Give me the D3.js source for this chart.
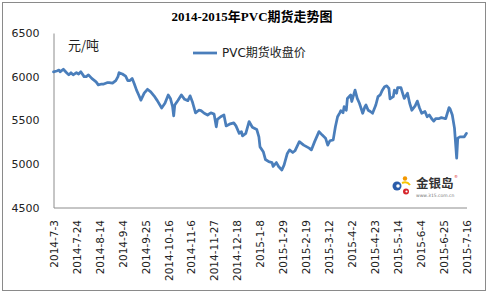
<!DOCTYPE html>
<html>
<head>
<meta charset="utf-8">
<script src="https://cdn.jsdelivr.net/npm/d3@7"></script>
<style>
  html, body { margin: 0; padding: 0; background: #fff; }
  svg { display: block; font-family: "DejaVu Sans", "Noto Sans CJK SC", sans-serif; }
</style>
</head>
<body>
<svg id="chart"></svg>
<script>
//DATA
const dates = [
  "2014-07-03","2014-07-06","2014-07-08","2014-07-09","2014-07-12","2014-07-15","2014-07-17","2014-07-19",
  "2014-07-21","2014-07-24","2014-07-26","2014-07-28","2014-07-31","2014-08-02","2014-08-04","2014-08-07",
  "2014-08-09","2014-08-11","2014-08-13","2014-08-16","2014-08-18","2014-08-21","2014-08-23","2014-08-26",
  "2014-08-29","2014-08-31","2014-09-01","2014-09-04","2014-09-07","2014-09-09","2014-09-11","2014-09-13",
  "2014-09-15","2014-09-17","2014-09-19","2014-09-21","2014-09-24","2014-09-27","2014-09-30","2014-10-03",
  "2014-10-06","2014-10-10","2014-10-13","2014-10-16","2014-10-18","2014-10-20","2014-10-21","2014-10-22",
  "2014-10-25","2014-10-28","2014-10-31","2014-11-03","2014-11-05","2014-11-07","2014-11-10","2014-11-13",
  "2014-11-15","2014-11-18","2014-11-21","2014-11-24","2014-11-27","2014-11-29","2014-11-30","2014-12-03",
  "2014-12-06","2014-12-08","2014-12-11","2014-12-15","2014-12-17","2014-12-20","2014-12-22","2014-12-23",
  "2014-12-26","2014-12-29","2015-01-01","2015-01-05","2015-01-07","2015-01-08","2015-01-11","2015-01-13",
  "2015-01-16","2015-01-19","2015-01-20","2015-01-23","2015-01-25","2015-01-28","2015-01-30","2015-02-02",
  "2015-02-04","2015-02-07","2015-02-09","2015-02-13","2015-02-17","2015-02-22","2015-02-24","2015-02-27",
  "2015-03-03","2015-03-06","2015-03-09","2015-03-11","2015-03-13","2015-03-16","2015-03-18","2015-03-20",
  "2015-03-22","2015-03-23","2015-03-25","2015-03-26","2015-03-28","2015-03-29","2015-04-01","2015-04-02",
  "2015-04-05","2015-04-07","2015-04-09","2015-04-12","2015-04-14","2015-04-15","2015-04-17","2015-04-19",
  "2015-04-21","2015-04-24","2015-04-26","2015-04-28","2015-04-30","2015-05-02","2015-05-04","2015-05-06",
  "2015-05-07","2015-05-10","2015-05-11","2015-05-13","2015-05-14","2015-05-17","2015-05-19","2015-05-20",
  "2015-05-23","2015-05-25","2015-05-27","2015-05-30","2015-06-01","2015-06-03","2015-06-05","2015-06-08",
  "2015-06-10","2015-06-12","2015-06-14","2015-06-16","2015-06-18","2015-06-21","2015-06-23","2015-06-26",
  "2015-06-27","2015-06-30","2015-07-01","2015-07-03","2015-07-05","2015-07-07","2015-07-08","2015-07-10",
  "2015-07-12","2015-07-14","2015-07-16"
];
const closePrice = [
  6055,6065,6075,6055,6085,6045,6020,6045,6020,6045,6030,6055,6000,6000,6020,5980,
  5960,5940,5905,5915,5915,5930,5930,5925,5955,6000,6045,6030,6005,5955,5955,5980,
  5915,5845,5790,5730,5810,5855,5825,5780,5725,5640,5695,5790,5750,5655,5550,5675,
  5730,5790,5740,5725,5780,5715,5585,5615,5610,5580,5560,5585,5570,5425,5510,5540,
  5560,5435,5455,5470,5435,5350,5370,5320,5350,5485,5420,5395,5310,5195,5140,5050,
  5025,5015,4970,5015,4970,4930,4985,5120,5160,5130,5150,5255,5215,5180,5160,5255,
  5370,5330,5295,5215,5265,5275,5425,5540,5585,5610,5585,5655,5615,5750,5790,5715,
  5845,5750,5695,5580,5655,5675,5615,5600,5580,5675,5770,5790,5845,5885,5895,5865,
  5745,5770,5845,5810,5875,5875,5790,5750,5810,5695,5615,5665,5720,5640,5580,5600,
  5540,5560,5520,5490,5520,5520,5530,5520,5520,5645,5630,5560,5410,5065,5295,5310,
  5310,5310,5350
];
const tickLabels = [
  "2014-7-3","2014-7-24","2014-8-14","2014-9-4","2014-9-25","2014-10-16","2014-11-6",
  "2014-11-27","2014-12-18","2015-1-8","2015-1-29","2015-2-19","2015-3-12","2015-4-2",
  "2015-4-23","2015-5-14","2015-6-4","2015-6-25","2015-7-16"
];
const yTicks = [4500, 5000, 5500, 6000, 6500];
const titleText = "2014-2015年PVC期货走势图";
const unitText = "元/吨";
const seriesName = "PVC期货收盘价";

document.addEventListener("DOMContentLoaded", function () {
  const width = 488;
  const height = 296;
  const lineColor = "#4a7ebb";
  const axisColor = "#8c8c8c";

  const svg = d3.select("#chart").attr("width", width).attr("height", height);

  // FRAME
  svg
    .append("rect")
    .attr("x", 2.5)
    .attr("y", 2.5)
    .attr("width", 483)
    .attr("height", 288)
    .attr("fill", "#fff")
    .attr("stroke", "#8a8a8a");

  const parse = d3.timeParse("%Y-%m-%d");
  const parseTick = d3.timeParse("%Y-%-m-%-d");
  const data = dates.map((d, i) => ({ date: parse(d), value: closePrice[i] }));

  // SCALES
  const x = d3
    .scaleTime()
    .domain([parseTick(tickLabels[0]), parseTick(tickLabels[tickLabels.length - 1])])
    .range([53.5, 466.5]);
  const y = d3.scaleLinear().domain([4500, 6500]).range([207.5, 33]);

  // AXES
  const yAxis = svg
    .append("g")
    .attr("transform", "translate(53.5,0)")
    .call(
      d3
        .axisLeft(y)
        .tickValues(yTicks)
        .tickFormat(d3.format("d"))
        .tickSize(0)
        .tickSizeOuter(0)
        .tickPadding(14)
    );
  yAxis.select(".domain").attr("stroke", axisColor);
  yAxis
    .selectAll("text")
    .attr("font-size", "11px")
    .attr("font-family", "DejaVu Sans, sans-serif")
    .attr("fill", "#222");

  const xAxis = svg
    .append("g")
    .attr("transform", "translate(0,207.5)")
    .call(
      d3
        .axisBottom(x)
        .tickValues(tickLabels.map(parseTick))
        .tickSize(0)
        .tickSizeOuter(0)
        .tickFormat((d, i) => tickLabels[i])
    );
  xAxis.select(".domain").attr("stroke", axisColor);
  xAxis
    .selectAll("text")
    .attr("font-size", "10.5px")
    .attr("font-family", "DejaVu Sans, sans-serif")
    .attr("fill", "#222")
    .attr("transform", "rotate(-90)")
    .attr("text-anchor", "end")
    .attr("x", -12.5)
    .attr("y", 0)
    .attr("dy", "0.36em");

  // LINE
  const line = d3
    .line()
    .x((d) => x(d.date))
    .y((d) => y(d.value));

  svg
    .append("path")
    .datum(data)
    .attr("d", line)
    .attr("fill", "none")
    .attr("stroke", lineColor)
    .attr("stroke-width", 2.75)
    .attr("stroke-linejoin", "round")
    .attr("stroke-linecap", "round");

  // TITLE
  svg
    .append("text")
    .attr("x", 252)
    .attr("y", 21)
    .attr("text-anchor", "middle")
    .attr("font-size", "13px")
    .attr("font-weight", "bold")
    .attr("font-family", "Liberation Serif, Noto Sans CJK SC, serif")
    .attr("fill", "#000")
    .text(titleText);

  // UNIT
  svg
    .append("text")
    .attr("x", 68)
    .attr("y", 50)
    .attr("font-size", "13px")
    .attr("font-family", "Noto Sans CJK SC, sans-serif")
    .attr("fill", "#222")
    .text(unitText);

  // LEGENDA
  const legend = svg.append("g").attr("transform", "translate(193,53)");
  legend
    .append("line")
    .attr("x1", 0)
    .attr("x2", 24)
    .attr("stroke", lineColor)
    .attr("stroke-width", 2.75);
  legend
    .append("text")
    .attr("x", 29)
    .attr("dy", "0.36em")
    .attr("font-size", "12px")
    .attr("fill", "#222")
    .text(seriesName);

  // LOGO
  const logo = svg.append("g").attr("transform", "translate(392,176)");
  logo.append("circle").attr("cx", 5).attr("cy", 10).attr("r", 4.5).attr("fill", "#2a5caa");
  logo.append("circle").attr("cx", 6).attr("cy", 10).attr("r", 1.8).attr("fill", "#fff");
  logo.append("circle").attr("cx", 13).attr("cy", 2.5).attr("r", 2.2).attr("fill", "#f39800");
  logo
    .append("path")
    .attr("d", "M10,7 Q15,5 18,9")
    .attr("fill", "none")
    .attr("stroke", "#f7c400")
    .attr("stroke-width", 2);
  logo.append("circle").attr("cx", 14).attr("cy", 15.5).attr("r", 3).attr("fill", "#d7262c");
  logo.append("circle").attr("cx", 14.5).attr("cy", 15.5).attr("r", 1.1).attr("fill", "#fff");
  logo
    .append("text")
    .attr("x", 24)
    .attr("y", 12)
    .attr("font-size", "12.5px")
    .attr("font-weight", "bold")
    .attr("font-family", "Noto Sans CJK SC, sans-serif")
    .attr("fill", "#333")
    .text("金银岛");
  logo
    .append("text")
    .attr("x", 62)
    .attr("y", 2)
    .attr("font-size", "4px")
    .attr("fill", "#d7262c")
    .text("®");
  logo
    .append("text")
    .attr("x", 24)
    .attr("y", 20.5)
    .attr("font-size", "4.5px")
    .attr("fill", "#777")
    .text("www.315.com.cn");
});
</script>
</body>
</html>
